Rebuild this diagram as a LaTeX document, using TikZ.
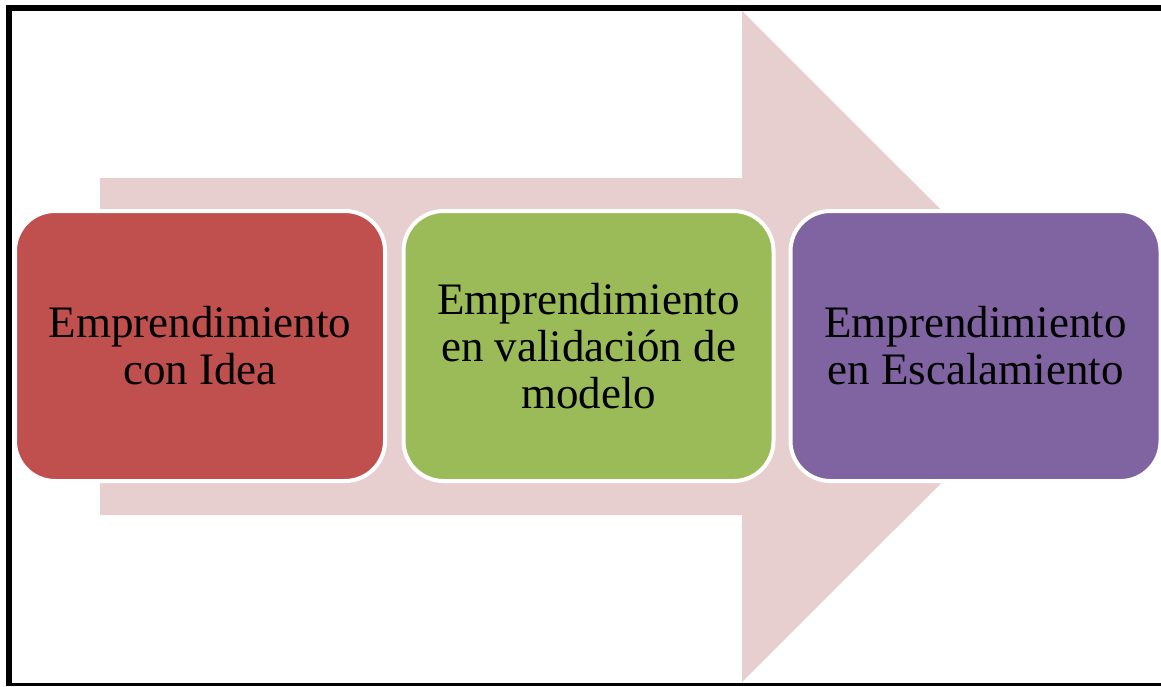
\documentclass[tikz,border=0pt]{standalone}
\usepackage{fontspec}
\setmainfont{Liberation Serif}
\definecolor{arrowpink}{HTML}{E7CFCF}
\definecolor{boxred}{HTML}{C0504D}
\definecolor{boxgreen}{HTML}{9BBB59}
\definecolor{boxpurple}{HTML}{8064A2}
\tikzset{
  stagebox/.style={draw=white, line width=4pt, rounded corners=40pt,
    minimum width=370pt, minimum height=270pt, inner sep=0pt,
    align=center, font=\fontsize{45}{47}\selectfont, text=black},
  framebar/.style={fill=black, draw=none}
}
\begin{document}
\begin{tikzpicture}[x=1pt,y=-1pt]
\useasboundingbox (0,0) rectangle (1161,686);
% big background arrow
\fill[arrowpink] (100,178) -- (742,178) -- (742,11) -- (1078,346.5) -- (742,682) -- (742,515) -- (100,515) -- cycle;
% stage boxes
\node[stagebox, fill=boxred]    (n1) at (200,346)   {Emprendimiento\\con Idea};
\node[stagebox, fill=boxgreen]  (n2) at (588.5,346) {Emprendimiento\\en validación de\\modelo};
\node[stagebox, fill=boxpurple] (n3) at (975.5,346) {Emprendimiento\\en Escalamiento};
% frame
\fill[framebar] (6,5) rectangle (1161,11);
\fill[framebar] (6,5) rectangle (12,686);
\fill[framebar] (6,683) rectangle (1161,686);
\end{tikzpicture}
\end{document}
